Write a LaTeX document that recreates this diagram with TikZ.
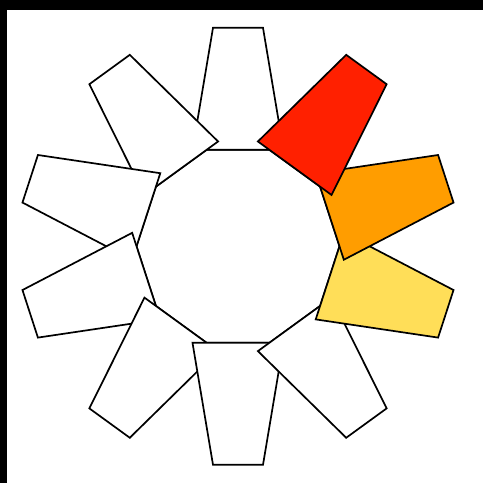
\documentclass[tikz,border=0pt]{standalone}
\definecolor{redc}{RGB}{255,32,0}
\definecolor{orangec}{RGB}{255,157,0}
\definecolor{yellowc}{RGB}{255,222,88}
\begin{document}
\begin{tikzpicture}[x=1pt,y=1pt,
  piece/.style={draw=black,line width=1.7pt,fill=white,line join=miter}]
\useasboundingbox (0,0) rectangle (483,483);
\fill[white] (0,0) rectangle (483,483);
\fill[black] (0,473) rectangle (483,483);
\fill[black] (0,0) rectangle (7,483);
\begin{scope}[shift={(238,236.7)}]
  \draw[piece] (0:101.5) -- (36:101.5) -- (72:101.5) -- (108:101.5) -- (144:101.5)
    -- (180:101.5) -- (216:101.5) -- (252:101.5) -- (288:101.5) -- (324:101.5) -- cycle;
  \foreach \a/\col in {90/white,126/white,162/white,198/white,234/white,270/white,306/white,342/yellowc,18/orangec,54/redc}{
    \draw[piece,fill=\col,rotate=\a-90] (-45.5,96.5) -- (45.5,96.5) -- (25,218.5) -- (-25,218.5) -- cycle;
  }
\end{scope}
\end{tikzpicture}
\end{document}
